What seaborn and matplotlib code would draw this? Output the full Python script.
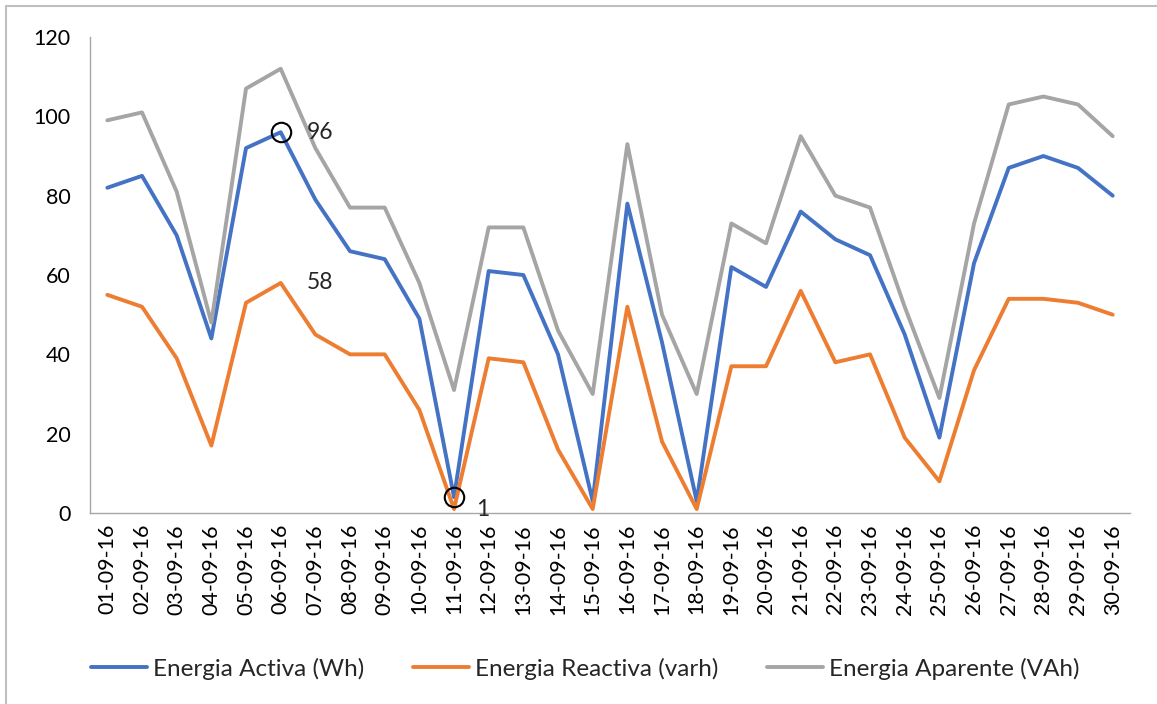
import matplotlib
matplotlib.use("Agg")
import matplotlib.pyplot as plt
from matplotlib.lines import Line2D
import pandas as pd
import seaborn as sns

# Daily energy readings, September 2016
dates = [f"{d:02d}-09-16" for d in range(1, 31)]
activa = [82, 85, 70, 44, 92, 96, 79, 66, 64, 49, 4, 61, 60, 40, 3,
          78, 43, 3, 62, 57, 76, 69, 65, 45, 19, 63, 87, 90, 87, 80]
reactiva = [55, 52, 39, 17, 53, 58, 45, 40, 40, 26, 1, 39, 38, 16, 1,
            52, 18, 1, 37, 37, 56, 38, 40, 19, 8, 36, 54, 54, 53, 50]
aparente = [99, 101, 81, 48, 107, 112, 92, 77, 77, 58, 31, 72, 72, 46, 30,
            93, 50, 30, 73, 68, 95, 80, 77, 52, 29, 73, 103, 105, 103, 95]

series_names = ["Energia Activa (Wh)", "Energia Reactiva (varh)", "Energia Aparente (VAh)"]
colors = ["#4472C4", "#ED7D31", "#A5A5A5"]
y_ticks = [0, 20, 40, 60, 80, 100, 120]

df = pd.DataFrame({
    "fecha": dates * 3,
    "idx": list(range(len(dates))) * 3,
    "valor": activa + reactiva + aparente,
    "serie": [series_names[0]] * 30 + [series_names[1]] * 30 + [series_names[2]] * 30,
})

sns.set_theme(style="white")
plt.rcParams["font.family"] = ["Lato", "DejaVu Sans"]

fig = plt.figure(figsize=(11.57, 7.04), dpi=100)
ax = fig.add_axes([0.0778, 0.2713, 0.8989, 0.6761])

sns.lineplot(data=df, x="idx", y="valor", hue="serie", hue_order=series_names,
             palette=colors, linewidth=2.8, ax=ax, legend=False, sort=False)

ax.set_xlim(-0.5, len(dates) - 0.5)
ax.set_ylim(0, 120)
ax.set_yticks(y_ticks)
ax.set_yticklabels([str(t) for t in y_ticks], fontsize=15.5, color="#000000")
ax.set_xticks(range(len(dates)))
ax.set_xticklabels(dates, rotation=90, fontsize=15.5, color="#000000")
ax.tick_params(axis="both", length=0, pad=14)
ax.tick_params(axis="x", pad=8)
ax.set_xlabel("")
ax.set_ylabel("")

for side in ["top", "right"]:
    ax.spines[side].set_visible(False)
for side in ["left", "bottom"]:
    ax.spines[side].set_color("#A6A6A6")
    ax.spines[side].set_linewidth(1.0)

# Highlighted points with their data labels
i_max = 5
i_min = 10
ax.plot([i_max, i_min], [activa[i_max], activa[i_min]], linestyle="none", marker="o",
        markersize=14, markerfacecolor="none", markeredgecolor="black", markeredgewidth=1.5)
ax.text(i_max + 0.75, activa[i_max], str(activa[i_max]), fontsize=16.5, va="center", ha="left")
ax.text(i_max + 0.75, reactiva[i_max], str(reactiva[i_max]), fontsize=16.5, va="center", ha="left")
ax.text(i_min + 0.65, reactiva[i_min], str(reactiva[i_min]), fontsize=16.5, va="center", ha="left")

handles = [Line2D([0], [0], color=c, linewidth=2.8) for c in colors]
fig.legend(handles, series_names, loc="center", bbox_to_anchor=(0.506, 0.05),
           ncol=3, frameon=False, fontsize=17.5, handlelength=2.3, handletextpad=0.25,
           columnspacing=2.0)

# Chart area border
fig.add_artist(Line2D([6 / 1157, 6 / 1157], [0, 1 - 6 / 704], color="#BFBFBF",
                      linewidth=1.5, transform=fig.transFigure))
fig.add_artist(Line2D([6 / 1157, 1], [1 - 6 / 704, 1 - 6 / 704], color="#BFBFBF",
                      linewidth=1.5, transform=fig.transFigure))

fig.savefig("out.png", dpi=100, facecolor="white")
